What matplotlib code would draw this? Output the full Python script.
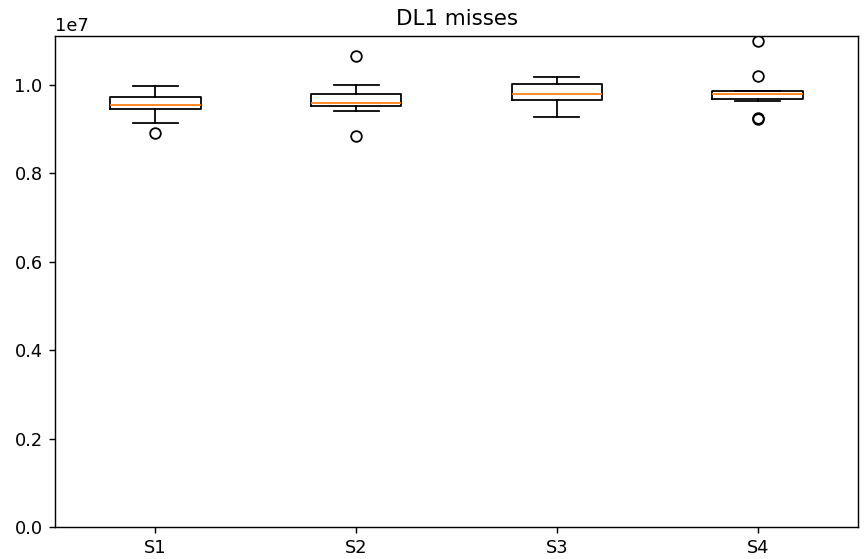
import matplotlib
matplotlib.use('Agg')
import matplotlib.pyplot as plt

# Box statistics (values in misses)
labels = ['S1', 'S2', 'S3', 'S4']
whislo = [9.125e6, 9.40e6, 9.27e6, 9.636e6]
q1 = [9.455e6, 9.51e6, 9.65e6, 9.67e6]
med = [9.53e6, 9.58e6, 9.79e6, 9.78e6]
q3 = [9.71e6, 9.79e6, 10.01e6, 9.855e6]
whishi = [9.98e6, 9.99e6, 10.18e6, 9.86e6]
fliers = [
    [8.90e6],
    [10.647e6, 8.85e6],
    [],
    [10.98e6, 10.19e6, 9.245e6, 9.225e6],
]

stats = []
for i in range(len(labels)):
    stats.append({'label': labels[i], 'whislo': whislo[i], 'q1': q1[i], 'med': med[i],
                  'q3': q3[i], 'whishi': whishi[i], 'fliers': fliers[i]})

dpi = 128
fig = plt.figure(figsize=(864 / dpi, 559 / dpi), dpi=dpi)
ax = fig.add_axes([55 / 864, 1 - 527 / 559, 803 / 864, 491 / 559])
ax.bxp(stats, widths=0.45)
ax.set_ylim(0, 1.11e7)
ax.set_title('DL1 misses')

fig.savefig('out.png', dpi=dpi)
